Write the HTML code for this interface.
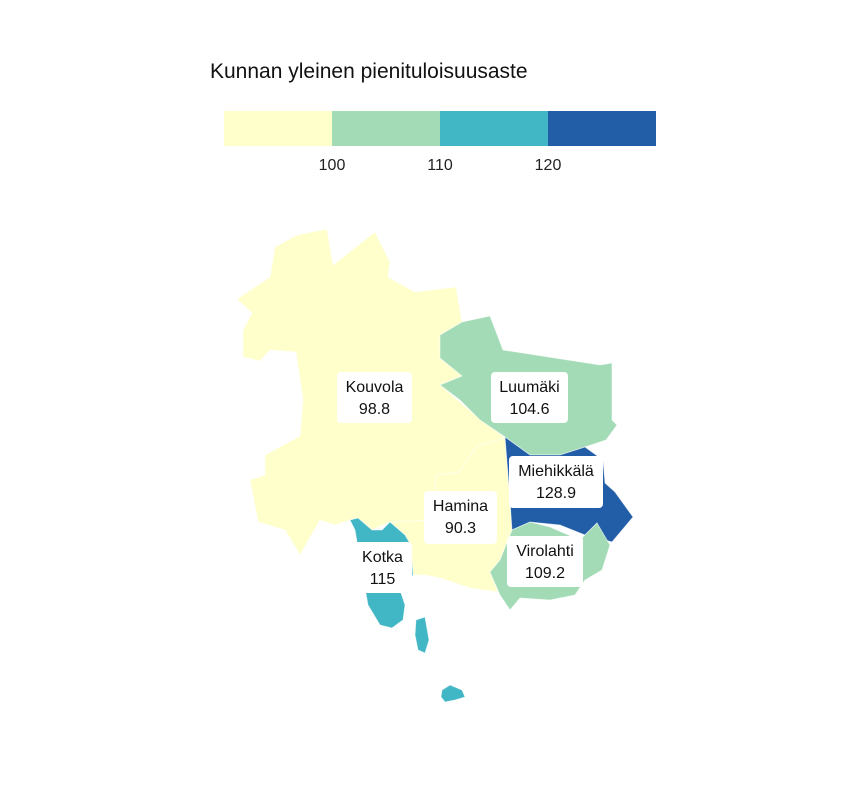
<!DOCTYPE html>
<html><head><meta charset="utf-8"><style>
body{margin:0;background:#fff;font-family:"Liberation Sans",sans-serif}
</style></head><body>
<svg id="c" width="864" height="792" viewBox="0 0 864 792" xmlns="http://www.w3.org/2000/svg">
<text x="210" y="78" font-size="21" fill="#111">Kunnan yleinen pienituloisuusaste</text>
<g id="legend"></g>
<g id="map"></g>
<g id="labels"></g>
</svg>
<script>
const names=["Kouvola","Hamina","Kotka","Luumäki","Miehikkälä","Virolahti"];
const values=[98.8,90.3,115,104.6,128.9,109.2];
const breaks=[100,110,120];
const colors=["#ffffcc","#a3dbb6","#41b6c4","#225ea8"];
const shapes={
"Kouvola":["237,299 270,277 275,247 297,235 327,229 333,265 375,232 390,262 388,277 415,292 456,287 462,322 440,335 440,358 462,376 440,385 475,415 505,438 477,446 459,472 436,475 433,520 390,522 372,530 358,518 350,520 335,525 320,520 300,555 285,530 258,522 250,480 265,475 265,455 300,436 303,400 296,352 270,350 260,361 243,357 243,330 252,313"],
"Hamina":["505,438 477,446 459,472 436,475 433,520 390,522 405,535 411,545 413,575 425,575 440,578 470,588 498,592 490,572 500,560 512,530 510,500"],
"Kotka":["350,520 358,518 372,530 382,530 390,522 405,535 411,545 413,575 400,590 405,605 403,620 392,628 380,625 368,605 360,560 355,530","416,620 425,617 429,640 425,653 418,650 415,635","442,690 450,685 462,690 465,697 455,700 445,702 441,697"],
"Luumäki":["440,335 462,322 490,316 503,350 600,365 612,363 612,420 617,425 606,440 585,447 560,455 530,455 505,437 480,420 460,400 440,385 462,376 440,358"],
"Miehikkälä":["505,437 530,455 560,455 585,447 603,460 605,483 615,492 633,517 612,542 605,540 597,523 585,535 560,525 530,522 512,530 510,500"],
"Virolahti":["512,530 530,522 550,527 580,540 597,523 610,545 602,570 585,580 575,595 550,600 520,598 510,610 500,595 490,572 500,560"]
};
const boxes={"Kouvola":[337,372,75,51],"Luumäki":[491,372,77,51],"Miehikkälä":[509,456,94,52],"Hamina":[424,491,73,53],"Kotka":[353,542,59,51],"Virolahti":[507,536,76,51]};
const NS="http://www.w3.org/2000/svg";
function colorFor(v){let i=0;while(i<breaks.length&&v>=breaks[i])i++;return colors[i];}
const map=document.getElementById('map'),lab=document.getElementById('labels'),leg=document.getElementById('legend');
// legend
const lx0=224,lw=108;
colors.forEach((c,i)=>{const r=document.createElementNS(NS,'rect');
r.setAttribute('x',lx0+i*lw);r.setAttribute('y',111);r.setAttribute('width',lw);r.setAttribute('height',35);r.setAttribute('fill',c);


leg.appendChild(r);});
breaks.forEach((b,i)=>{const t=document.createElementNS(NS,'text');
t.setAttribute('x',lx0+(i+1)*lw);t.setAttribute('y',170);t.setAttribute('font-size','16');t.setAttribute('text-anchor','middle');t.setAttribute('fill','#222');t.textContent=b;


leg.appendChild(t);});
names.forEach((n,i)=>{
 shapes[n].forEach(p=>{const pg=document.createElementNS(NS,'polygon');
 pg.setAttribute('points',p);pg.setAttribute('fill',colorFor(values[i]));pg.setAttribute('stroke','#fff');pg.setAttribute('stroke-width','0.8');pg.setAttribute('stroke-opacity','0.6');
 
 
 map.appendChild(pg);});
});
names.forEach((n,i)=>{
 const b=boxes[n];const g=document.createElementNS(NS,'g');
 
 
 const r=document.createElementNS(NS,'rect');r.setAttribute('x',b[0]);r.setAttribute('y',b[1]);r.setAttribute('width',b[2]);r.setAttribute('height',b[3]);r.setAttribute('rx',4);r.setAttribute('fill','#fff');g.appendChild(r);
 const cx=b[0]+b[2]/2;
 [[n,b[1]+20],[String(values[i]),b[1]+42]].forEach(([s,y])=>{const t=document.createElementNS(NS,'text');t.setAttribute('x',cx);t.setAttribute('y',y);t.setAttribute('text-anchor','middle');t.setAttribute('font-size','16');t.setAttribute('fill','#111');t.textContent=s;g.appendChild(t);});
 lab.appendChild(g);
});
</script>
</body></html>
